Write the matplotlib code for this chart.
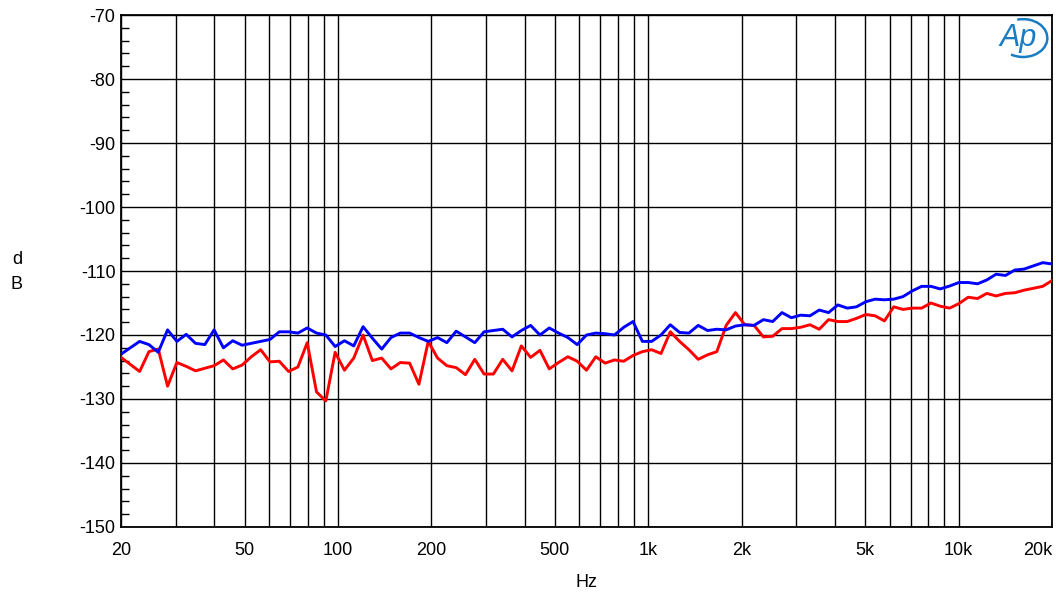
import numpy as np
import matplotlib
matplotlib.use("Agg")
import matplotlib.pyplot as plt
from matplotlib.patches import Arc

plt.rcParams['font.family'] = ['Liberation Sans', 'DejaVu Sans']

# 1/10-octave sweep, 20 Hz .. 20 kHz
freqs = np.geomspace(20, 20000, 101)

red_db = [
    -123.5, -124.6, -125.7, -122.6, -122.2, -128.0, -124.3, -124.9, -125.6, -125.2,
    -124.8, -123.9, -125.3, -124.7, -123.4, -122.3, -124.2, -124.1, -125.7, -125.0,
    -121.2, -128.9, -130.3, -122.7, -125.5, -123.6, -120.0, -124.0, -123.6, -125.3,
    -124.3, -124.4, -127.7, -121.0, -123.6, -124.8, -125.1, -126.2, -123.8, -126.1,
    -126.1, -123.8, -125.6, -121.7, -123.5, -122.4, -125.3, -124.3, -123.4, -124.1,
    -125.5, -123.4, -124.4, -123.9, -124.1, -123.2, -122.6, -122.3, -122.9, -119.5,
    -121.0, -122.3, -123.8, -123.1, -122.6, -118.5, -116.5, -118.4, -118.5, -120.3,
    -120.2, -119.0, -119.0, -118.8, -118.4, -119.1, -117.6, -117.9, -117.9, -117.4,
    -116.8, -117.0, -117.8, -115.6, -116.0, -115.8, -115.8, -115.0, -115.5, -115.8,
    -115.1, -114.1, -114.3, -113.5, -113.9, -113.5, -113.4, -113.0, -112.7, -112.4,
    -111.5,
]

blue_db = [
    -123.0, -122.0, -121.0, -121.5, -122.7, -119.2, -121.0, -119.9, -121.3, -121.5,
    -119.2, -122.0, -120.9, -121.6, -121.3, -121.0, -120.7, -119.5, -119.5, -119.7,
    -118.9, -119.7, -120.0, -121.8, -120.9, -121.7, -118.7, -120.5, -122.2, -120.4,
    -119.7, -119.7, -120.4, -121.0, -120.4, -121.2, -119.4, -120.3, -121.2, -119.5,
    -119.3, -119.1, -120.3, -119.3, -118.5, -120.0, -118.9, -119.7, -120.4, -121.5,
    -120.0, -119.7, -119.8, -120.0, -118.8, -117.9, -121.0, -121.0, -120.0, -118.4,
    -119.6, -119.7, -118.5, -119.3, -119.1, -119.2, -118.6, -118.4, -118.5, -117.6,
    -117.9, -116.5, -117.3, -116.9, -117.0, -116.1, -116.5, -115.3, -115.8, -115.6,
    -114.8, -114.4, -114.5, -114.4, -114.0, -113.1, -112.4, -112.4, -112.8, -112.35,
    -111.8, -111.8, -112.0, -111.4, -110.5, -110.7, -109.85, -109.7, -109.2, -108.7,
    -108.9,
]

x_major = [20, 50, 100, 200, 500, 1000, 2000, 5000, 10000, 20000]
x_labels = ["20", "50", "100", "200", "500", "1k", "2k", "5k", "10k", "20k"]
x_minor = [30, 40, 60, 70, 80, 90, 300, 400, 600, 700, 800, 900,
           3000, 4000, 6000, 7000, 8000, 9000]
y_major = list(range(-150, -69, 10))

fig = plt.figure(figsize=(10.56, 5.96), dpi=100)
ax = fig.add_axes([0.1146, 0.1158, 0.8816, 0.859])

ax.plot(freqs, red_db, color="#ff0000", lw=2.1, zorder=3)
ax.plot(freqs, blue_db, color="#0000ff", lw=2.1, zorder=4)

ax.set_xscale("log")
ax.set_xlim(20, 20000)
ax.set_ylim(-150, -70)
ax.set_xticks(x_major)
ax.set_xticklabels(x_labels)
ax.set_xticks(x_minor, minor=True)
ax.set_yticks(y_major)
ax.set_yticklabels([str(v) for v in y_major])
ax.set_yticks(np.arange(-150, -69, 2), minor=True)

ax.grid(True, which="major", color="black", lw=1.0)
ax.grid(True, which="minor", axis="x", color="black", lw=1.0)

ax.tick_params(axis="x", which="both", length=0, pad=11, labelsize=13)
ax.tick_params(axis="y", which="major", length=0, pad=4, labelsize=13)
ax.tick_params(axis="y", which="minor", direction="in", length=6, width=1.0,
               left=True, right=False)
for s in ax.spines.values():
    s.set_linewidth(1.3)
    s.set_color("black")

# last label sits inside the axis edge
ax.get_xticklabels()[-1].set_horizontalalignment("right")

fig.text(0.016, 0.565, "d", fontsize=13, ha="center", va="center")
fig.text(0.016, 0.522, "B", fontsize=13, ha="center", va="center")
fig.text(0.555, 0.022, "Hz", fontsize=13, ha="center", va="center")

# Ap logo
logo_blue = "#1a7cc2"
ax.text(0.9635, 0.955, "Ap", transform=ax.transAxes, fontsize=22, fontstyle="italic",
        color=logo_blue, ha="center", va="center", zorder=5)
ax.add_patch(Arc((0.969, 0.955), 0.052, 0.074, theta1=-112, theta2=100,
                 transform=ax.transAxes, color=logo_blue, lw=1.8, zorder=5))

fig.savefig("out.png", dpi=100)
